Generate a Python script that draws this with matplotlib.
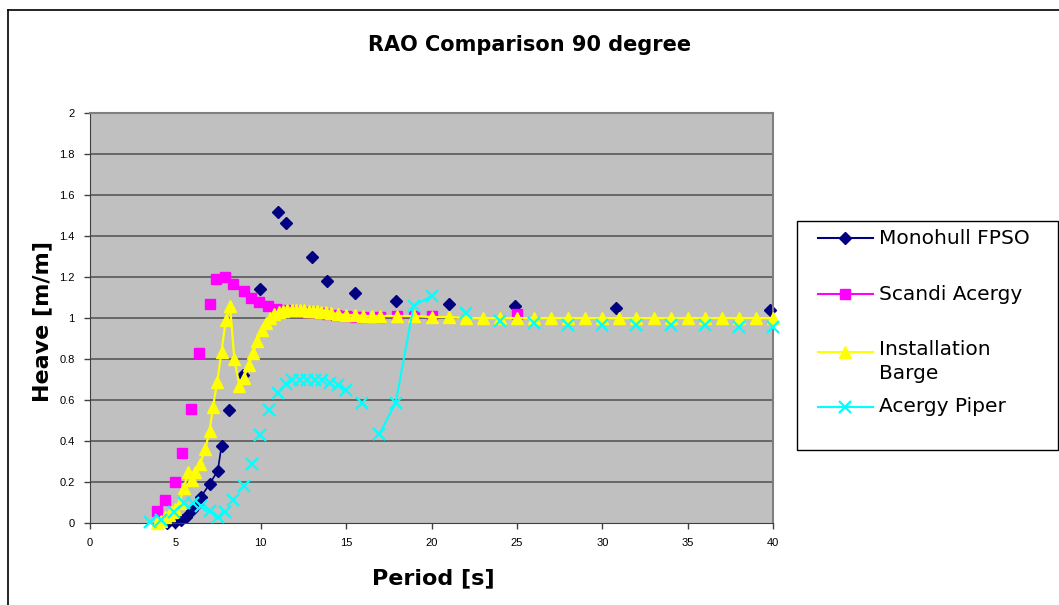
import matplotlib
matplotlib.use("Agg")
import matplotlib.pyplot as plt
from matplotlib.lines import Line2D
from matplotlib.patches import Rectangle

# data (period [s], heave [m/m])
per_mono = [4.5, 5.0, 5.3, 5.65, 5.95, 6.25, 6.5, 7.0, 7.48, 7.7, 8.15, 8.95, 9.95,
            11.0, 11.5, 13.0, 13.9, 15.5, 17.9, 21.0, 24.9, 30.8, 39.8]
heave_mono = [0.0, 0.005, 0.015, 0.03, 0.063, 0.095, 0.128, 0.19, 0.255, 0.375, 0.55, 0.72, 1.14,
              1.52, 1.465, 1.30, 1.18, 1.12, 1.085, 1.067, 1.06, 1.05, 1.04]

per_scandi = [3.9, 4.4, 5.0, 5.4, 5.9, 6.4, 7.0, 7.4, 7.9, 8.4, 9.0, 9.4, 9.9, 10.4, 10.9,
              11.4, 11.9, 12.4, 12.9, 13.4, 13.9, 14.4, 15.0, 15.5, 16.0, 17.0, 18.0, 19.0, 20.0, 25.0]
heave_scandi = [0.06, 0.11, 0.20, 0.34, 0.555, 0.83, 1.07, 1.19, 1.20, 1.165, 1.13, 1.10, 1.08, 1.06, 1.045,
                1.04, 1.035, 1.03, 1.03, 1.025, 1.02, 1.015, 1.01, 1.005, 1.005, 1.005, 1.01, 1.01, 1.01, 1.02]

per_barge = [3.9, 4.15, 4.4, 4.6, 4.8, 5.0, 5.25, 5.5, 5.75, 5.95, 6.15, 6.45, 6.75, 7.0, 7.2,
             7.45, 7.7, 7.95, 8.2, 8.45, 8.75, 9.0, 9.3, 9.55, 9.8, 10.05, 10.3, 10.55, 10.8, 11.05,
             11.3, 11.55, 11.8, 12.05, 12.3, 12.55, 12.8, 13.05, 13.3, 13.55, 13.8, 14.1, 14.5, 15.0, 15.5,
             16.0, 16.5, 17.0, 18.0, 19.0, 20.0, 21.0, 22.0, 23.0, 24.0, 25.0, 26.0, 27.0, 28.0, 29.0,
             30.0, 31.0, 32.0, 33.0, 34.0, 35.0, 36.0, 37.0, 38.0, 39.0, 40.0]
heave_barge = [0.0, 0.01, 0.03, 0.04, 0.055, 0.07, 0.10, 0.17, 0.25, 0.21, 0.25, 0.29, 0.36, 0.45, 0.565,
               0.69, 0.835, 0.99, 1.06, 0.80, 0.67, 0.71, 0.77, 0.83, 0.89, 0.94, 0.975, 1.0, 1.02, 1.03,
               1.035, 1.04, 1.04, 1.04, 1.04, 1.04, 1.035, 1.035, 1.035, 1.03, 1.03, 1.025, 1.02, 1.015, 1.015,
               1.01, 1.01, 1.01, 1.01, 1.01, 1.005, 1.005, 1.0, 1.0, 1.0, 1.0, 1.0, 1.0, 1.0, 1.0,
               1.0, 1.0, 1.0, 1.0, 1.0, 1.0, 1.0, 1.0, 1.0, 1.0, 1.0]

per_piper = [3.5, 4.15, 4.9, 5.5, 6.05, 6.5, 7.0, 7.5, 7.9, 8.4, 9.0, 9.5, 9.95, 10.5, 11.0,
             11.45, 11.85, 12.3, 12.7, 13.15, 13.6, 14.05, 14.5, 15.0, 15.9, 16.95, 17.9, 18.95, 20.0,
             22.0, 24.0, 26.0, 28.0, 30.0, 32.0, 34.0, 36.0, 38.0, 40.0]
heave_piper = [0.005, 0.015, 0.055, 0.10, 0.10, 0.085, 0.058, 0.03, 0.055, 0.11, 0.18, 0.29, 0.43, 0.55, 0.636,
               0.68, 0.70, 0.70, 0.70, 0.70, 0.70, 0.685, 0.673, 0.65, 0.587, 0.434, 0.587, 1.06, 1.107,
               1.026, 0.987, 0.977, 0.966, 0.966, 0.966, 0.966, 0.966, 0.955, 0.955]

x_ticks = [0, 5, 10, 15, 20, 25, 30, 35, 40]
y_ticks = [0, 0.2, 0.4, 0.6, 0.8, 1.0, 1.2, 1.4, 1.6, 1.8, 2.0]
y_labels = ["0", "0.2", "0.4", "0.6", "0.8", "1", "1.2", "1.4", "1.6", "1.8", "2"]

navy = "#000080"
magenta = "#FF00FF"
yellow = "#FFFF00"
cyan = "#00FFFF"

W, H = 1059, 605
fig = plt.figure(figsize=(W / 100, H / 100), dpi=100)
ax = fig.add_axes([0.085, 0.1355, 0.645, 0.6775])
ax.set_facecolor("#C0C0C0")

for y in y_ticks[1:-1]:
    ax.axhline(y, color="#606060", lw=1.3, zorder=1)

# only some parts of the series have visible connecting lines
ax.plot(per_mono[:10], heave_mono[:10], color=navy, lw=1.2, zorder=2)
ax.plot(per_mono, heave_mono, ls="none", marker="D", ms=6.5, color=navy, zorder=2, clip_on=False)
ax.plot(per_scandi, heave_scandi, ls="none", marker="s", ms=7, color=magenta, zorder=3, clip_on=False)
ax.plot(per_barge, heave_barge, color=yellow, lw=1.6, marker="^", ms=8.5, zorder=4, clip_on=False)
ax.plot(per_piper[25:29], heave_piper[25:29], color=cyan, lw=1.5, zorder=5)
ax.plot(per_piper, heave_piper, ls="none", marker="x", ms=9, mew=1.6, color=cyan, zorder=5, clip_on=False)

ax.set_xlim(0, 40)
ax.set_ylim(0, 2)
ax.set_xticks(x_ticks)
ax.set_yticks(y_ticks)
ax.set_yticklabels(y_labels)
ax.tick_params(direction="out", length=4, width=1, color="#404040", labelsize=8, pad=7)
for lab in ax.get_xticklabels() + ax.get_yticklabels():
    lab.set_family("Liberation Sans")
for side in ["top", "right"]:
    ax.spines[side].set_color("#808080")
    ax.spines[side].set_linewidth(1.5)
for side in ["left", "bottom"]:
    ax.spines[side].set_color("#404040")

fig.text(433 / W, 1 - 578 / H, "Period [s]", fontsize=16, fontweight="bold", ha="center", va="center")
fig.text(42 / W, 1 - 322 / H, "Heave [m/m]", fontsize=16, fontweight="bold", ha="center", va="center",
         rotation=90)
fig.text(530 / W, 1 - 45 / H, "RAO Comparison 90 degree", fontsize=15, fontweight="bold",
         ha="center", va="center")

# outer chart frame (clipped on the right/bottom in the original)
fig.add_artist(Line2D([8 / W, 1.0], [1 - 10 / H, 1 - 10 / H], color="black", lw=1.2))
fig.add_artist(Line2D([8 / W, 8 / W], [0.0, 1 - 10 / H], color="black", lw=1.2))

# legend box, built by hand so the two-line label keeps its marker on the first line
fig.add_artist(Rectangle((797 / W, 1 - 450 / H), 261 / W, 229 / H, facecolor="white",
                         edgecolor="black", lw=1.0))
legend_items = [
    ("Monohull FPSO", navy, dict(marker="D", ms=6.5), 238),
    ("Scandi Acergy", magenta, dict(marker="s", ms=7), 294),
    ("Installation\nBarge", yellow, dict(marker="^", ms=8.5), 352),
    ("Acergy Piper", cyan, dict(marker="x", ms=9, mew=1.6), 407),
]
for label, col, mk, ypx in legend_items:
    yf = 1 - ypx / H
    fig.add_artist(Line2D([818 / W, 873 / W], [yf, yf], color=col, lw=1.5))
    fig.add_artist(Line2D([845 / W], [yf], color=col, ls="none", **mk))
    if "\n" in label:
        fig.text(879 / W, 1 - (ypx - 12) / H, label, fontsize=14.5, va="top", linespacing=1.35)
    else:
        fig.text(879 / W, yf, label, fontsize=14.5, va="center")

fig.savefig("out.png", dpi=100)
